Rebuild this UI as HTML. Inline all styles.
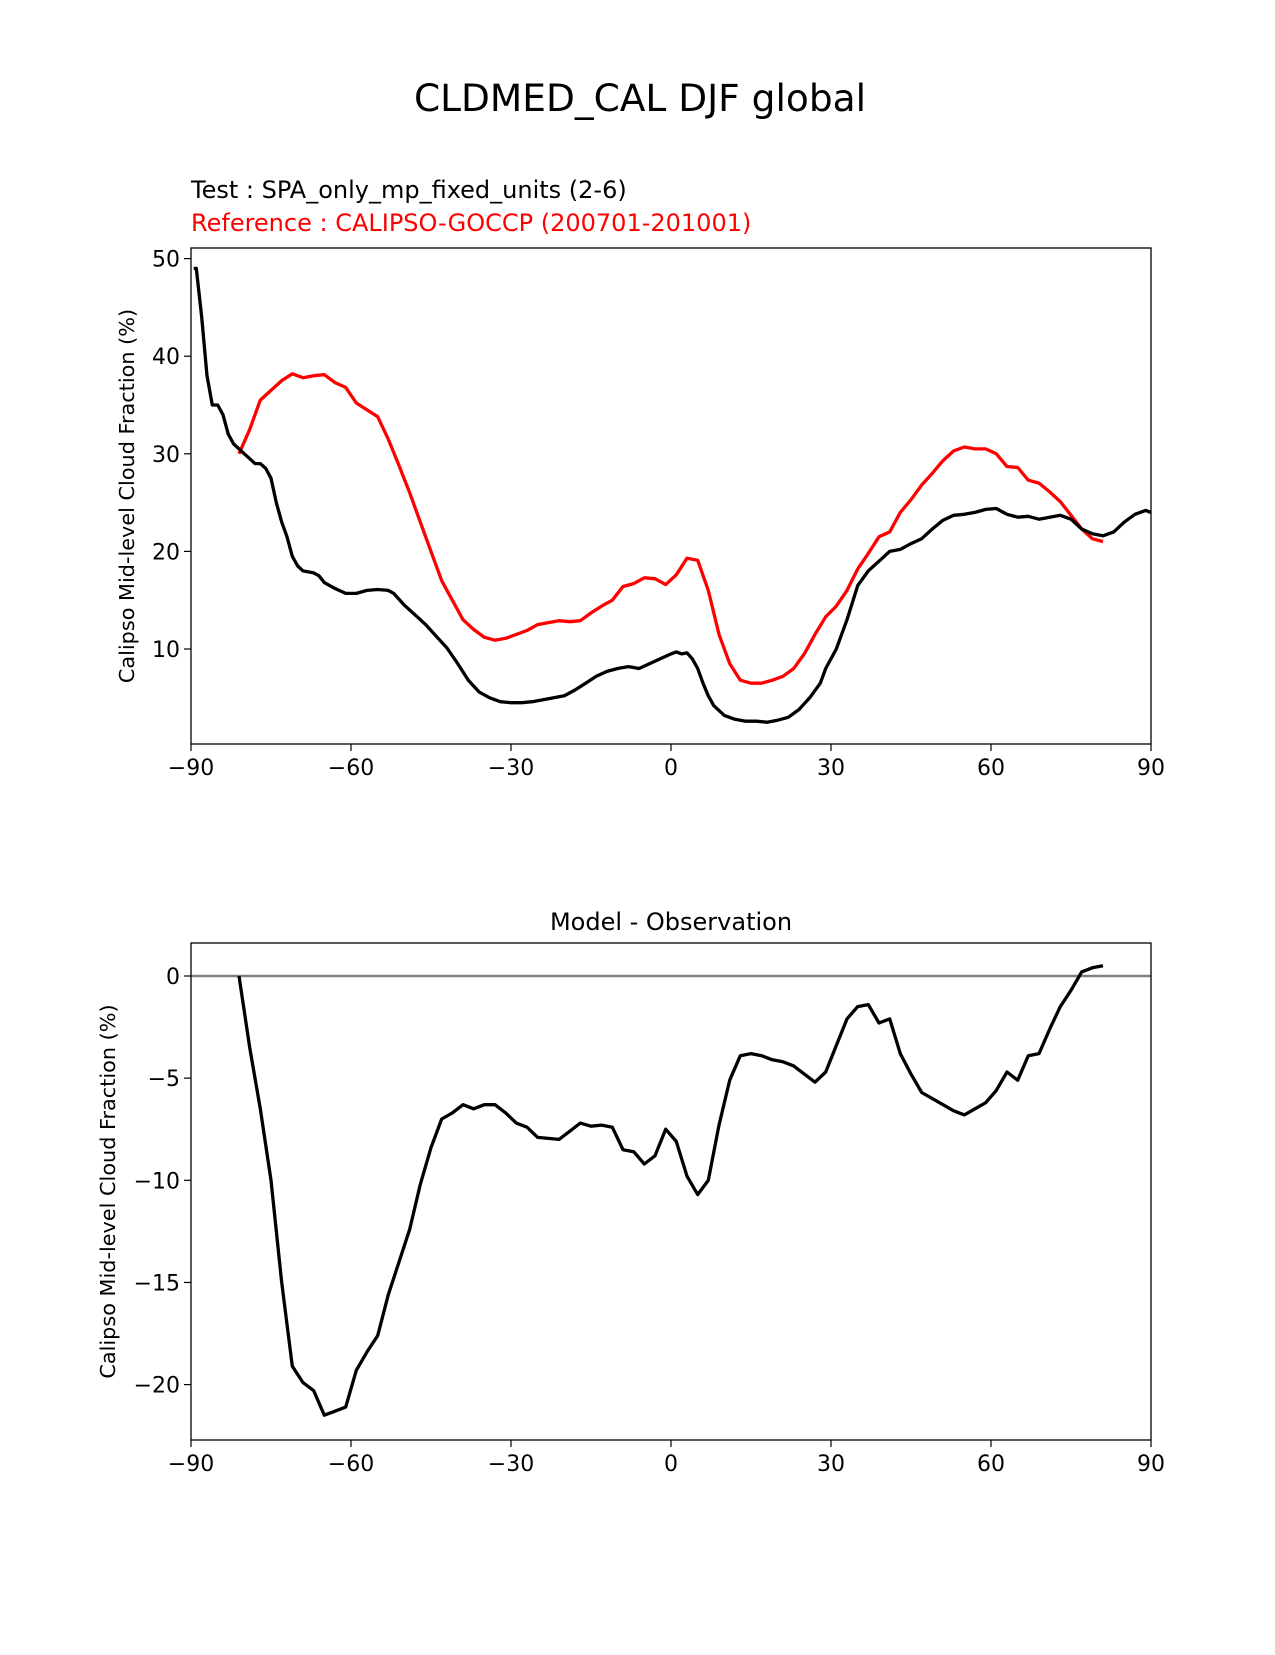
<!DOCTYPE html>
<html><head><meta charset="utf-8"><style>
body{margin:0;background:#fff;}
svg text{font-family:"DejaVu Sans","Liberation Sans",sans-serif;}
</style></head><body>
<svg id="chart" width="1275" height="1650" xmlns="http://www.w3.org/2000/svg">
<rect width="1275" height="1650" fill="#fff"/>
<text x="640" y="111" font-size="37.5" text-anchor="middle">CLDMED_CAL DJF global</text>
<text x="191" y="198" font-size="24">Test : SPA_only_mp_fixed_units (2-6)</text>
<text x="191" y="231" font-size="24" fill="red">Reference : CALIPSO-GOCCP (200701-201001)</text>
<text x="671" y="930" font-size="24" text-anchor="middle">Model - Observation</text>
<g id="top"></g><g id="bot"></g>
</svg>
<script>
const testLat=[-89.5,-89,-88,-87,-86,-85,-84,-83,-82,-80,-79,-78,-77,-76,-75,-74,-73,-72,-71,-70,-69,-67,-66,-65,-63,-61,-59,-57,-55,-53,-52,-50,-48,-46,-44,-42,-40,-38,-36,-34,-32,-30,-28,-26,-24,-22,-20,-18,-16,-14,-12,-10,-8,-6,-4,-2,0,1,2,3,4,5,6,7,8,10,12,14,16,18,20,22,24,26,28,29,31,33,35,37,39,41,43,45,47,49,51,53,55,57,59,61,63,65,67,69,71,73,75,77,79,81,83,85,87,89,90];
const testVal=[49,49,44,38,35,35,34,32,31,30,29.5,29,29,28.5,27.5,25,23,21.5,19.5,18.5,18,17.8,17.5,16.8,16.2,15.7,15.7,16,16.1,16.0,15.7,14.5,13.5,12.5,11.3,10.1,8.5,6.8,5.6,5.0,4.6,4.5,4.5,4.6,4.8,5.0,5.2,5.8,6.5,7.2,7.7,8.0,8.2,8.0,8.5,9.0,9.5,9.7,9.5,9.6,9,8,6.5,5.2,4.2,3.2,2.8,2.6,2.6,2.5,2.7,3.0,3.8,5.0,6.5,8,10,13,16.5,18,19,20,20.2,20.8,21.3,22.3,23.2,23.7,23.8,24,24.3,24.4,23.8,23.5,23.6,23.3,23.5,23.7,23.3,22.3,21.8,21.6,22,23,23.8,24.2,24];
const refLat=[-81,-79,-77,-75,-73,-71,-69,-67,-65,-63,-61,-59,-57,-55,-53,-51,-49,-47,-45,-43,-41,-39,-37,-35,-33,-31,-29,-27,-25,-23,-21,-19,-17,-15,-13,-11,-9,-7,-5,-3,-1,1,3,5,7,9,11,13,15,17,19,21,23,25,27,29,31,33,35,37,39,41,43,45,47,49,51,53,55,57,59,61,63,65,67,69,71,73,75,77,79,81];
const refVal=[30,32.5,35.5,36.5,37.5,38.2,37.8,38,38.1,37.3,36.8,35.2,34.5,33.8,31.5,28.8,26,23,20,17,15,13,12,11.2,10.9,11.1,11.5,11.9,12.5,12.7,12.9,12.8,12.9,13.7,14.4,15.0,16.4,16.7,17.3,17.2,16.6,17.6,19.3,19.1,16,11.5,8.5,6.8,6.5,6.5,6.8,7.2,8.0,9.5,11.5,13.3,14.4,16,18.2,19.8,21.5,22,24,25.3,26.8,28,29.3,30.3,30.7,30.5,30.5,30,28.7,28.6,27.3,27,26.1,25.1,23.7,22.3,21.3,21.0];
const diffVal=[0,-3.5,-6.5,-10,-15,-19.1,-19.9,-20.3,-21.5,-21.3,-21.1,-19.3,-18.4,-17.6,-15.6,-14,-12.4,-10.2,-8.4,-7.0,-6.7,-6.3,-6.5,-6.3,-6.3,-6.7,-7.2,-7.4,-7.9,-7.95,-8,-7.6,-7.2,-7.35,-7.3,-7.4,-8.5,-8.6,-9.2,-8.8,-7.5,-8.1,-9.8,-10.7,-10,-7.3,-5.1,-3.9,-3.8,-3.9,-4.1,-4.2,-4.4,-4.8,-5.2,-4.7,-3.4,-2.1,-1.5,-1.4,-2.3,-2.1,-3.8,-4.8,-5.7,-6.0,-6.3,-6.6,-6.8,-6.5,-6.2,-5.6,-4.7,-5.1,-3.9,-3.8,-2.6,-1.5,-0.7,0.2,0.4,0.5];
const xTicks=[-90,-60,-30,0,30,60,90];
const xTickLabels=["\u221290","\u221260","\u221230","0","30","60","90"];
const topYTicks=[10,20,30,40,50];
const botYTicks=[0,-5,-10,-15,-20];
const botYTickLabels=["0","\u22125","\u221210","\u221215","\u221220"];

const NS="http://www.w3.org/2000/svg";
function mk(p,t,a){const e=document.createElementNS(NS,t);for(const k in a)e.setAttribute(k,a[k]);p.appendChild(e);return e;}
const X0=191,X1=1151;
const xs=v=>X0+(v+90)/180*(X1-X0);
function drawAxes(g,top,bot,ys,ticks,labels,ylab,name,ylx){
  for(let i=0;i<xTicks.length;i++){const x=xs(xTicks[i]);
    const t=mk(g,'line',{x1:x,x2:x,y1:bot,y2:bot+7,stroke:'#000','stroke-width':1.2});
    
    const l=mk(g,'text',{x:x,y:bot+31,'font-size':22,'text-anchor':'middle'});l.textContent=xTickLabels[i];
    }
  for(let i=0;i<ticks.length;i++){const y=ys(ticks[i]);
    const t=mk(g,'line',{x1:X0-7,x2:X0,y1:y,y2:y,stroke:'#000','stroke-width':1.2});
    
    const l=mk(g,'text',{x:X0-11,y:y+8,'font-size':22,'text-anchor':'end'});l.textContent=labels[i];
    }
  const yl=mk(g,'text',{x:0,y:0,'font-size':20.8,'text-anchor':'middle',transform:`translate(${ylx},${(top+bot)/2}) rotate(-90)`});yl.textContent=ylab;
  
}
function line(g,lat,val,xs,ys,col,name){
  const d=lat.map((a,i)=>(i?'L':'M')+xs(a).toFixed(1)+' '+ys(val[i]).toFixed(1)).join('');
  const p=mk(g,'path',{d:d,fill:'none',stroke:col,'stroke-width':3.3,'stroke-linejoin':'round'});
  
}
// top
const gt=document.getElementById('top');
const T0=248,T1=744;
const ysT=v=>649-(v-10)*9.76;
drawAxes(gt,T0,T1,ysT,topYTicks,topYTicks.map(String),'Calipso Mid-level Cloud Fraction (%)','top',134);
line(gt,refLat,refVal,xs,ysT,'red','reference-line');
line(gt,testLat,testVal,xs,ysT,'#000','test-line');
const ft=mk(gt,'rect',{x:X0,y:T0,width:X1-X0,height:T1-T0,fill:'none',stroke:'#000','stroke-width':1.3});

// bottom
const gb=document.getElementById('bot');
const B0=943,B1=1440;
const ysB=v=>976-v*20.43;
drawAxes(gb,B0,B1,ysB,botYTicks,botYTickLabels,'Calipso Mid-level Cloud Fraction (%)','bottom',115);
const z=mk(gb,'line',{x1:X0,x2:X1,y1:ysB(0),y2:ysB(0),stroke:'gray','stroke-width':2.5});

line(gb,refLat,diffVal,xs,ysB,'#000','difference-line');
const fb=mk(gb,'rect',{x:X0,y:B0,width:X1-X0,height:B1-B0,fill:'none',stroke:'#000','stroke-width':1.3});

</script>
</body></html>
